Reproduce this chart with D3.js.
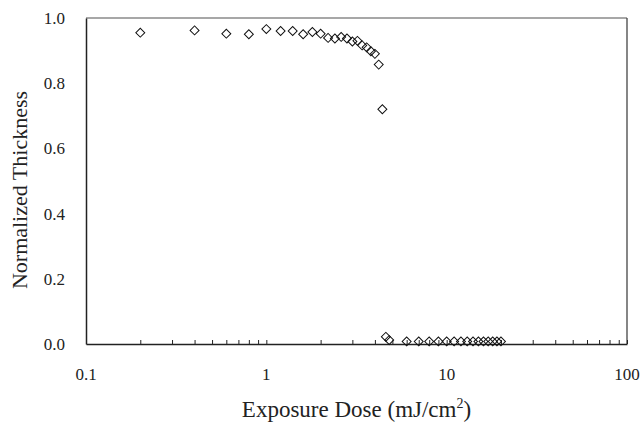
<!DOCTYPE html>
<html>
<head>
<meta charset="utf-8">
<script src="https://cdn.jsdelivr.net/npm/d3@7"></script>
<style>
  body { margin: 0; background: #fff; }
  svg text { font-family: 'Liberation Serif', 'DejaVu Serif', serif; fill: #222; }
</style>
</head>
<body>
<svg id="chart"></svg>
<script>
const width = 644;
const height = 425;
const margin = {left: 86, right: 17, top: 18, bottom: 81};
const serif = "'Liberation Serif', 'DejaVu Serif', serif";

// exposure dose (mJ/cm2) and normalized thickness
const dose = [0.2, 0.4, 0.6, 0.8, 1.0, 1.2, 1.4, 1.6, 1.8, 2.0, 2.2, 2.4, 2.6, 2.8, 3.0,
  3.2, 3.4, 3.6, 3.8, 4.0, 4.2, 4.4, 4.6, 4.8,
  6, 7, 8, 9, 10, 11, 12, 13, 14, 15, 16, 17, 18, 19, 20];
const thickness = [0.955, 0.962, 0.952, 0.950, 0.966, 0.960, 0.960, 0.950, 0.957, 0.952, 0.939, 0.937, 0.942, 0.937, 0.928,
  0.930, 0.916, 0.910, 0.898, 0.890, 0.857, 0.720, 0.022, 0.012,
  0.008, 0.008, 0.008, 0.008, 0.008, 0.008, 0.008, 0.008, 0.008, 0.008, 0.008, 0.008, 0.008, 0.008, 0.008];

const xTickLabels = [0.1, 1, 10, 100];
const yTickLabels = [0, 0.2, 0.4, 0.6, 0.8, 1.0];

const plotW = width - margin.left - margin.right;
const plotH = height - margin.top - margin.bottom;

const svg = d3.select('#chart')
  .attr('width', width)
  .attr('height', height)
  .attr('font-family', serif);

const g = svg.append('g')
  .attr('transform', `translate(${margin.left}, ${margin.top})`);

const xScale = d3.scaleLog().domain([0.1, 100]).range([0, plotW]);
const yScale = d3.scaleLinear().domain([0, 1]).range([plotH, 0]);

// minor + major ticks on the log axis
const xTicks = [];
[0.1, 1, 10].forEach(dec => {
  for (let k = 1; k <= 9; k++) xTicks.push(dec * k);
});
xTicks.push(100);

// frame (top and right lines are grey in the original)
g.append('line').attr('x1', 0).attr('x2', plotW).attr('y1', 0).attr('y2', 0)
  .attr('stroke', '#8a8a8a').attr('stroke-width', 1.5);
g.append('line').attr('x1', plotW).attr('x2', plotW).attr('y1', 0).attr('y2', plotH)
  .attr('stroke', '#444').attr('stroke-width', 1.3);

const xAxis = d3.axisBottom(xScale)
  .tickValues(xTicks)
  .tickSizeInner(-4)
  .tickSizeOuter(0)
  .tickFormat('');

g.append('g')
  .attr('transform', `translate(0, ${plotH})`)
  .call(xAxis)
  .call(a => a.selectAll('line').attr('stroke', '#222'))
  .call(a => a.select('.domain').attr('stroke', '#222').attr('stroke-width', 1.5));

g.append('g')
  .selectAll('text')
  .data(xTickLabels)
  .enter()
  .append('text')
  .attr('x', d => xScale(d))
  .attr('y', plotH + 36)
  .attr('text-anchor', 'middle')
  .attr('font-family', serif)
  .style('font-size', '17px')
  .text(d => d);

const yAxis = d3.axisLeft(yScale)
  .tickValues(yTickLabels)
  .tickSize(0)
  .tickPadding(21)
  .tickFormat(d3.format('.1f'));

g.append('g')
  .call(yAxis)
  .attr('font-family', serif)
  .call(a => a.select('.domain').attr('stroke', '#222').attr('stroke-width', 1.5))
  .call(a => a.selectAll('text')
    .style('font-size', '17px')
    .attr('fill', '#222'));

// axis titles
const xTitle = svg.append('text')
  .attr('x', margin.left + plotW / 2)
  .attr('y', 417)
  .attr('text-anchor', 'middle')
  .style('font-size', '23px')
  .text('Exposure Dose (mJ/cm');
xTitle.append('tspan').attr('dy', -9).style('font-size', '14px').text('2');
xTitle.append('tspan').attr('dy', 9).text(')');

svg.append('text')
  .attr('transform', `translate(27, ${margin.top + plotH / 2 + 9}) rotate(-90)`)
  .attr('text-anchor', 'middle')
  .style('font-size', '22px')
  .text('Normalized Thickness');

// data markers (open diamonds)
const diamond = d3.symbol().type(d3.symbolSquare).size(40);
g.append('g')
  .selectAll('path')
  .data(dose)
  .enter()
  .append('path')
  .attr('d', diamond)
  .attr('transform', (d, i) => `translate(${xScale(d)}, ${yScale(thickness[i])}) rotate(45)`)
  .attr('fill', 'none')
  .attr('stroke', '#111')
  .attr('stroke-width', 1);
</script>
</body>
</html>
